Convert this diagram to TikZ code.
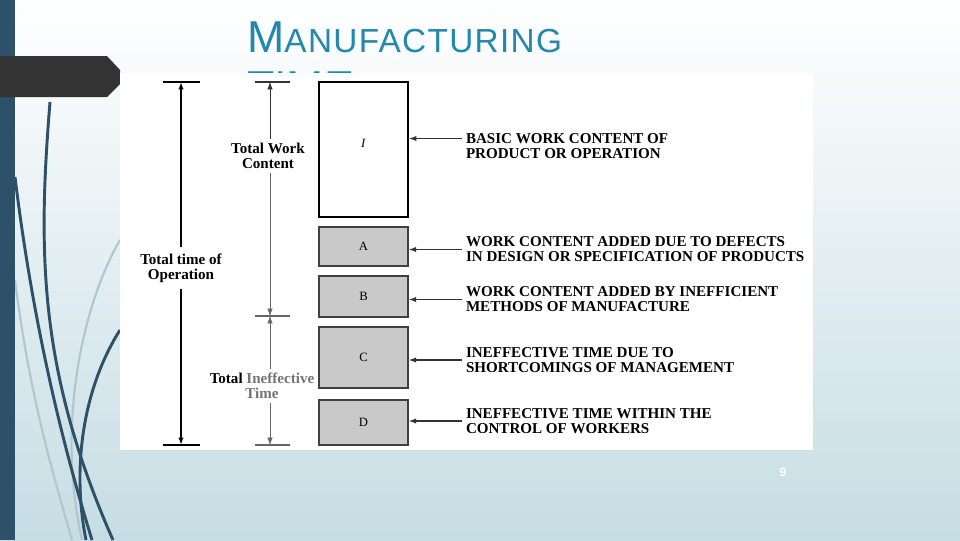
\documentclass[tikz,border=0pt]{standalone}
\usepackage{fontspec}
\setmainfont{Liberation Serif}
\newfontfamily\titlefont{Liberation Sans}
\usetikzlibrary{arrows.meta, positioning, calc}
\definecolor{slBar}{HTML}{2C5168}
\definecolor{slTab}{HTML}{333333}
\definecolor{slTitle}{HTML}{2388AE}
\definecolor{slBottom}{HTML}{C6DDE4}
\definecolor{slLight}{HTML}{B2C6CE}
\definecolor{boxGrey}{HTML}{C9C9C9}

\tikzset{
  wbox/.style={draw=black, line width=1.5pt, fill=white, minimum width=66.75pt,
    inner sep=0pt, font=\fontsize{9.5}{10}\selectfont},
  gbox/.style={draw=black!75, line width=1.2pt, fill=boxGrey, minimum width=66.75pt,
    inner sep=0pt, font=\fontsize{9.5}{10}\selectfont},
  note/.style={anchor=west, align=left, inner sep=0pt, outer sep=3pt,
    font=\bfseries\fontsize{11.3}{11.3}\selectfont},
  dimlbl/.style={align=center, inner sep=3pt, font=\bfseries\fontsize{11.3}{11.3}\selectfont},
  ptr/.style={-{Latex[length=5.5pt,width=4pt]}, line width=0.9pt, black!80},
  dimtip/.style={-{Latex[length=5.5pt,width=4pt]}},
  curve/.style={line width=2.2pt, slBar},
  lcurve/.style={line width=1.6pt, slLight},
}

\begin{document}
\begin{tikzpicture}[x=0.75pt, y=-0.75pt]
  \useasboundingbox (0,0) rectangle (960,540);
  % slide background
  \shade[top color=white, bottom color=slBottom] (0,0) rectangle (960,540);
  \draw[lcurve] (120,240) .. controls (85,300) and (55,420) .. (82,540);
  \draw[lcurve] (15,280) .. controls (30,400) and (55,480) .. (72,540);
  \draw[curve] (50,102) .. controls (38,250) and (38,370) .. (113,540);
  \draw[curve] (15,177) .. controls (30,300) and (55,420) .. (92,540);
  \draw[curve] (120,330) .. controls (82,390) and (72,470) .. (86,540);
  \fill[slBar] (0,0) rectangle (15,540);
  \fill[slTab] (0,56) -- (107,56) -- (120,70) -- (120,84) -- (107,97) -- (0,97) -- cycle;

  \node[anchor=base west, inner sep=0pt, text=slTitle] (title) at (247,52)
    {\titlefont\fontsize{33.5}{33}\selectfont M\addfontfeatures{LetterSpace=4}\fontsize{25}{25}\selectfont ANUFACTURING};
  \node[anchor=base west, inner sep=0pt, text=slTitle] (title2) at (247,102)
    {\titlefont\fontsize{33.5}{33}\selectfont TIME};

  % scanned figure
  \fill[white] (120,73) rectangle (813,450);

  \node[wbox, minimum height=101.25pt, text depth=9pt] (bI) at (363.5,149.5) {\textit{I}};
  \node[gbox, minimum height=29.25pt] (bA) at (363.5,246.5) {A};
  \node[gbox, minimum height=30.75pt] (bB) at (363.5,296.5) {B};
  \node[gbox, minimum height=45.75pt] (bC) at (363.5,357.5) {C};
  \node[gbox, minimum height=33.75pt] (bD) at (363.5,422.5) {D};

  \node[note] (tI) at (462,146.5) {BASIC WORK CONTENT OF\\PRODUCT OR OPERATION};
  \node[note] (tA) at (462,249.5) {WORK CONTENT ADDED DUE TO DEFECTS\\IN DESIGN OR SPECIFICATION OF PRODUCTS};
  \node[note] (tB) at (462,299.5) {WORK CONTENT ADDED BY INEFFICIENT\\METHODS OF MANUFACTURE};
  \node[note] (tC) at (462,360) {INEFFECTIVE TIME DUE TO\\SHORTCOMINGS OF MANAGEMENT};
  \node[note] (tD) at (462,421) {INEFFECTIVE TIME WITHIN THE\\CONTROL OF WORKERS};

  \draw[ptr] ([yshift=6pt]tI.west) -- ([yshift=6pt]tI.west -| bI.east);
  \draw[ptr] (tA.west) -- (tA.west -| bA.east);
  \draw[ptr] (tB.west) -- (tB.west -| bB.east);
  \draw[ptr] (tC.west) -- (tC.west -| bC.east);
  \draw[ptr] (tD.west) -- (tD.west -| bD.east);

  % total time of operation
  \coordinate (opT) at (181,82);
  \coordinate (opB) at (181,445);
  \node[dimlbl, inner sep=5pt] (op) at (181,268) {Total time of\\Operation};
  \draw[line width=1.4pt] (opT) ++(-18,0) -- ++(37,0);
  \draw[line width=1.4pt] (opB) ++(-18,0) -- ++(37,0);
  \draw[dimtip, line width=1.4pt] (op.north) -- (opT);
  \draw[dimtip, line width=1.4pt] (op.south) -- (opB);

  % work content / ineffective time
  \coordinate (wcT) at (270,82);
  \coordinate (wcM) at (270,316);
  \coordinate (wcB) at (270,445);
  \node[dimlbl] (wc) at (268,156) {Total Work\\Content};
  \node[dimlbl] (ie) at (262,386) {Total {\color{black!55}Ineffective}\\{\color{black!55}Time}};
  \draw[line width=1pt, black!80] (wcT) ++(-15,0) -- ++(35,0);
  \draw[line width=1pt, black!60] (wcM) ++(-15,0) -- ++(35,0);
  \draw[line width=1pt, black!60] (wcB) ++(-15,0) -- ++(35,0);
  \draw[dimtip, black!80] (wc.north -| wcT) -- (wcT);
  \draw[dimtip, black!60] (wc.south -| wcT) -- (wcM);
  \draw[dimtip, black!60] (ie.north -| wcT) -- (wcM);
  \draw[dimtip, black!60] (ie.south -| wcT) -- (wcB);

  \node[text=white, font=\titlefont\bfseries\fontsize{9}{9}\selectfont] (pg) at (783,472) {9};
\end{tikzpicture}
\end{document}
